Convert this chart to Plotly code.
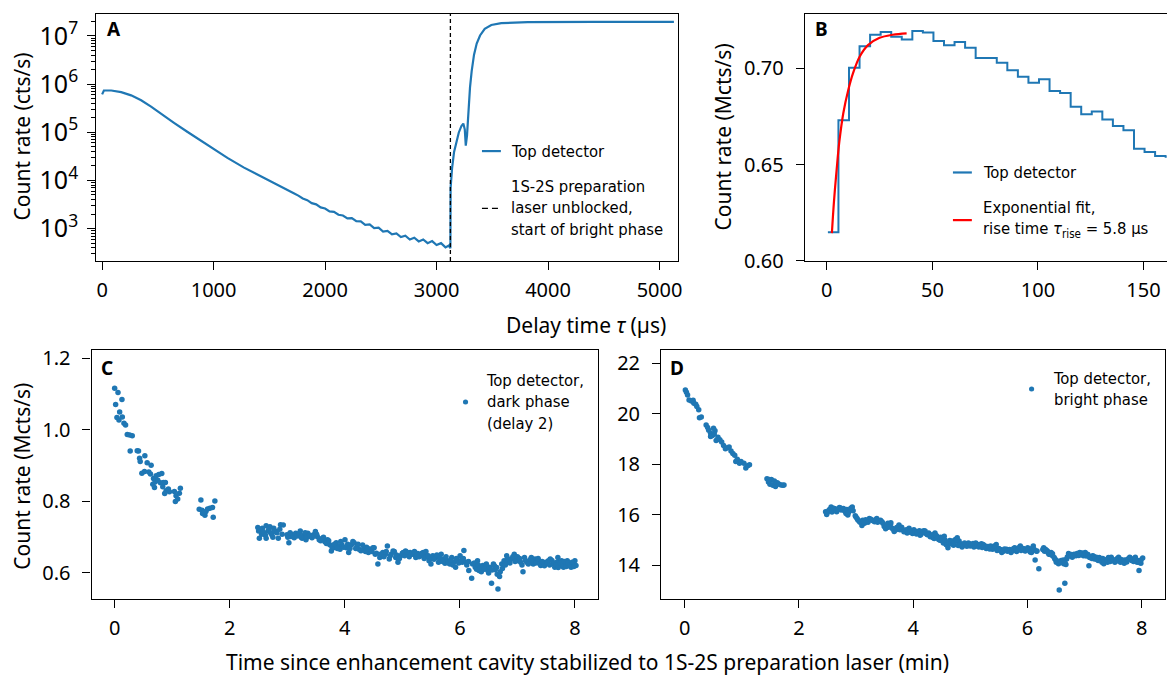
import plotly.graph_objects as go

W, H = 1175, 693          # target picture size
OFF = 8                   # page body margin in the browser
FW, FH = W - OFF, H - OFF  # figure size so that the figure fills the window
BLUE = "#1f77b4"
RED = "#ff0000"

# ---------------- Panel A data: delay time (us) vs count rate (cts/s)
A_TAU = [0, 16, 82, 171, 260, 350, 439, 528, 648, 767, 886, 1005, 1124, 1273, 1421, 1570, 1719,
         1760, 1800, 1840, 1880, 1920, 1960, 2000, 2040, 2080, 2120, 2160, 2200, 2240, 2280, 2320,
         2360, 2400, 2440, 2480, 2520, 2560, 2600, 2640, 2680, 2720, 2760, 2800, 2840, 2880, 2920,
         2960, 3000, 3040, 3080, 3110, 3124,
         3126, 3139, 3157, 3178, 3199, 3223, 3240, 3253, 3262, 3273, 3285, 3300, 3315, 3336, 3360,
         3390, 3432, 3491, 3580, 3818, 4414, 5129]
A_RATE = [6.11e5, 7.35e5, 7.35e5, 6.79e5, 5.82e5, 4.61e5, 3.39e5, 2.40e5, 1.55e5, 1.01e5, 6.61e4,
          4.37e4, 2.93e4, 1.84e4, 1.21e4, 8.22e3, 5.42e3,
          4.84e3, 4.22e3, 3.89e3, 3.37e3, 3.18e3, 2.75e3, 2.61e3, 2.28e3, 2.23e3, 1.94e3, 1.87e3,
          1.63e3, 1.65e3, 1.42e3, 1.41e3, 1.20e3, 1.22e3, 1.02e3, 1.04e3, 867, 899, 759, 791, 665,
          711, 594, 646, 542, 596, 498, 550, 455, 499, 407, 447, 389,
          7.0e3, 1.78e4, 3.89e4, 6.17e4, 9.77e4, 1.35e5, 1.51e5, 1.15e5, 5.25e4, 8.51e4, 2.51e5,
          8.51e5, 1.86e6, 4.07e6, 6.92e6, 1.02e7, 1.40e7, 1.68e7, 1.84e7, 1.93e7, 1.95e7, 1.95e7]
BRIGHT_START = 3124  # us, preparation laser unblocked

# ---------------- Panel B data: histogram bins (us) and rates (Mcts/s), fit
B_EDGES = [0.5, 5.5, 10.5, 15.5, 20.5, 25.5, 30.5, 35.5, 40.5, 45.5, 50.5, 55.5, 60.5, 65.5, 70.5,
           75.5, 80.5, 85.5, 90.5, 95.5, 100.5, 105.5, 110.5, 115.5, 120.5, 125.5, 130.5, 135.5,
           140.5, 145.5, 150.5, 155.5, 160.5, 165.5]
B_RATE = [0.6148, 0.6730, 0.7003, 0.7115, 0.7175, 0.7189, 0.7165, 0.7150, 0.7194, 0.7187, 0.7142,
          0.7120, 0.7138, 0.7108, 0.7054, 0.7054, 0.7029, 0.6990, 0.6956, 0.6926, 0.6943, 0.6882,
          0.6872, 0.6801, 0.6762, 0.6776, 0.6734, 0.6700, 0.6678, 0.6582, 0.6565, 0.6545, 0.6540]
FIT_T = [2.4, 3.4, 4.7, 5.9, 7.8, 10.1, 12.5, 15.6, 19.5, 25.0, 31.2, 37.8]
FIT_RATE = [0.6143, 0.6310, 0.6480, 0.6616, 0.6767, 0.6885, 0.6978, 0.7062, 0.7121, 0.7159,
            0.7175, 0.7182]

# ---------------- Panel C data: time (min) vs dark-phase rate (Mcts/s)
C_T = [0.000, 0.058, 0.017, 0.127, 0.087, 0.040, 0.075, 0.133, 0.162, 0.190, 0.219, 0.260, 0.306,
       0.270, 0.392, 0.415, 0.433, 0.444, 0.525, 0.565, 0.634, 0.473, 0.519, 0.594, 0.623, 0.675,
       0.721, 0.767, 0.819, 0.663, 0.703, 0.750, 0.796, 0.848, 0.882, 0.692, 0.836, 0.894, 0.934,
       0.952, 0.870, 1.038, 1.067, 1.125, 1.142, 1.055, 1.096,
       1.499, 1.470, 1.517, 1.546, 1.569, 1.586, 1.615, 1.655, 1.701, 1.742, 1.713, 1.528, 1.557,
       2.488, 2.515, 2.567, 2.600, 2.633, 2.666, 2.699, 2.732, 2.765, 2.798, 2.844, 2.883, 2.930,
       2.633, 2.502, 2.554,
       2.995, 3.028, 3.061, 3.094, 3.147, 3.180, 3.226, 3.259, 3.292, 3.325, 3.357, 3.410, 3.456,
       3.489, 3.522, 3.555, 3.608, 3.654, 3.700, 3.739, 3.766, 3.805, 3.851, 3.884, 3.917, 3.950,
       4.003, 4.029, 4.068, 4.115, 4.161, 4.213, 4.246, 4.332, 4.378, 4.411, 4.444, 4.490, 4.529,
       4.575, 4.608, 4.661, 4.707, 4.740, 4.773, 4.806, 4.839, 4.885, 4.924, 4.970, 5.016, 5.056,
       5.102, 5.135, 5.188, 5.234, 5.267, 5.319, 5.365, 5.398, 5.431, 5.464, 5.497, 5.530, 5.583,
       5.629, 5.675, 5.714, 5.741, 5.780, 5.826, 5.859, 5.892, 5.925, 5.958, 6.004, 6.043, 6.070,
       6.109, 6.155, 6.221, 6.205, 6.267, 6.307, 6.333, 6.373, 6.399, 6.438, 6.485, 6.517, 6.550,
       6.583, 6.616, 6.649, 6.662, 6.702, 6.728, 6.768, 6.814, 6.847, 6.899, 6.945, 6.978, 7.011,
       7.057, 7.097, 7.123, 7.163, 7.209, 7.242, 7.275, 7.307, 7.340, 7.373, 7.406, 7.452, 7.492,
       7.538, 7.571, 7.623, 7.650, 7.689, 7.735, 7.768, 7.801, 7.834, 7.867, 7.900, 7.933, 7.966,
       7.999, 8.018, 7.768, 7.703]
C_RATE = [1.117, 1.105, 1.071, 1.085, 1.050, 1.035, 1.028, 1.036, 1.019, 1.014, 0.987, 0.986, 0.984,
          0.941, 0.942, 0.941, 0.921, 0.912, 0.928, 0.908, 0.901, 0.879, 0.884, 0.882, 0.877, 0.864,
          0.872, 0.875, 0.878, 0.848, 0.854, 0.859, 0.852, 0.853, 0.853, 0.839, 0.841, 0.830, 0.835,
          0.827, 0.822, 0.828, 0.816, 0.823, 0.837, 0.800, 0.807,
          0.804, 0.778, 0.775, 0.769, 0.761, 0.772, 0.779, 0.781, 0.783, 0.801, 0.756, 0.766, 0.770,
          0.727, 0.697, 0.725, 0.711, 0.732, 0.717, 0.729, 0.707, 0.725, 0.716, 0.697, 0.735, 0.734,
          0.697, 0.717, 0.708,
          0.707, 0.684, 0.702, 0.707, 0.711, 0.705, 0.717, 0.697, 0.705, 0.693, 0.711, 0.702, 0.707,
          0.716, 0.702, 0.693, 0.697, 0.687, 0.693, 0.679, 0.661, 0.670, 0.684, 0.675, 0.666, 0.679,
          0.693, 0.670, 0.657, 0.679, 0.684, 0.675, 0.666, 0.670, 0.672, 0.657, 0.666, 0.670, 0.652,
          0.625, 0.643, 0.657, 0.652, 0.675, 0.639, 0.652, 0.661, 0.643, 0.630, 0.648, 0.657, 0.661,
          0.652, 0.657, 0.652, 0.643, 0.654, 0.648, 0.657, 0.652, 0.645, 0.634, 0.625, 0.648, 0.643,
          0.630, 0.652, 0.639, 0.627, 0.634, 0.625, 0.643, 0.630, 0.616, 0.634, 0.648, 0.630, 0.663,
          0.630, 0.607, 0.625, 0.585, 0.616, 0.634, 0.607, 0.603, 0.621, 0.616, 0.607, 0.616, 0.571,
          0.625, 0.609, 0.596, 0.555, 0.603, 0.625, 0.634, 0.648, 0.630, 0.639, 0.652, 0.643, 0.634,
          0.630, 0.603, 0.643, 0.630, 0.634, 0.643, 0.625, 0.639, 0.630, 0.634, 0.621, 0.625, 0.630,
          0.634, 0.639, 0.625, 0.616, 0.630, 0.621, 0.630, 0.616, 0.625, 0.634, 0.621, 0.616, 0.625,
          0.634, 0.621, 0.634, 0.643]
# further dark-phase points read from the dense part of the cloud
C_T2 = [2.52, 2.58, 2.62, 2.68, 2.71, 2.75, 2.78, 2.82, 2.87, 2.91, 3.01, 3.05, 3.12, 3.17, 3.21,
        3.24, 3.31, 3.34, 3.39, 3.43, 3.47, 3.51, 3.58, 3.63, 3.68, 3.72, 3.78, 3.82, 3.87, 3.93,
        3.98, 4.05, 4.09, 4.14, 4.19, 4.23, 4.28, 4.31, 4.36, 4.40, 4.47, 4.51, 4.55, 4.62, 4.68,
        4.72, 4.79, 4.86, 4.90, 4.95, 5.00, 5.04, 5.08, 5.12, 5.16, 5.21, 5.25, 5.29, 5.34, 5.38,
        5.41, 5.45, 5.51, 5.55, 5.60, 5.65, 5.70, 5.76, 5.80, 5.84, 5.88, 5.94, 5.98, 6.02, 6.06,
        6.12, 6.15, 6.25, 6.29, 6.32, 6.36, 6.42, 6.46, 6.50, 6.56, 6.60, 6.64, 6.69, 6.74, 6.79,
        6.83, 6.87, 6.92, 6.96, 7.00, 7.04, 7.08, 7.14, 7.19, 7.23, 7.26, 7.32, 7.36, 7.39, 7.43,
        7.47, 7.52, 7.56, 7.60, 7.64, 7.67, 7.71, 7.75, 7.79, 7.82, 7.85, 7.88, 7.91, 7.95, 7.98]
C_RATE2 = [0.722, 0.715, 0.705, 0.722, 0.712, 0.700, 0.718, 0.712, 0.722, 0.708, 0.700, 0.712,
           0.698, 0.703, 0.710, 0.700, 0.712, 0.700, 0.705, 0.698, 0.703, 0.708, 0.690, 0.700,
           0.682, 0.690, 0.672, 0.680, 0.668, 0.688, 0.672, 0.680, 0.668, 0.688, 0.668, 0.680,
           0.662, 0.678, 0.660, 0.668, 0.660, 0.670, 0.655, 0.652, 0.645, 0.660, 0.648, 0.660,
           0.650, 0.640, 0.655, 0.648, 0.658, 0.645, 0.652, 0.660, 0.650, 0.645, 0.655, 0.640,
           0.660, 0.648, 0.640, 0.638, 0.650, 0.640, 0.632, 0.645, 0.628, 0.636, 0.622, 0.640,
           0.628, 0.635, 0.640, 0.622, 0.632, 0.628, 0.610, 0.622, 0.615, 0.610, 0.625, 0.600,
           0.608, 0.620, 0.615, 0.590, 0.612, 0.622, 0.640, 0.628, 0.645, 0.632, 0.645, 0.640,
           0.622, 0.635, 0.625, 0.638, 0.632, 0.628, 0.640, 0.625, 0.632, 0.620, 0.628, 0.622,
           0.635, 0.628, 0.622, 0.615, 0.628, 0.622, 0.632, 0.618, 0.628, 0.622, 0.630, 0.618]

# ---------------- Panel D data: time (min) vs bright-phase rate (Mcts/s)
D_T = [0.013, 0.032, 0.052, 0.078, 0.117, 0.149, 0.162, 0.195, 0.214, 0.247, 0.260, 0.292, 0.377,
       0.403, 0.422, 0.455, 0.487, 0.506, 0.532, 0.552, 0.584, 0.617, 0.649, 0.682, 0.714, 0.747,
       0.779, 0.812, 0.844, 0.877, 0.896, 0.922, 0.961, 0.987, 1.039, 1.071, 1.104, 1.136, 0.455,
       0.519,
       1.442, 1.468, 1.494, 1.519, 1.545, 1.571, 1.591, 1.623, 1.656, 1.688, 1.721, 1.740, 1.481,
       2.468, 2.487, 2.519, 2.545, 2.565, 2.597, 2.630, 2.662, 2.695, 2.727, 2.760, 2.792, 2.825,
       2.857, 2.890, 2.922, 2.935, 2.987, 3.019, 3.052, 3.104, 3.117, 3.149, 3.195, 3.234, 3.279,
       3.325, 3.364, 3.409, 3.455, 3.494, 3.519, 3.558, 3.604, 3.636, 3.669, 3.714, 3.753, 3.786,
       3.818, 3.864, 3.896, 3.929, 3.974, 4.013, 4.058, 4.091, 4.123, 4.156, 4.188, 4.234, 4.273,
       4.318, 4.351, 4.383, 4.416, 4.448, 4.481, 4.513, 4.545, 4.578, 4.610, 4.643, 4.675, 4.708,
       4.740, 4.773, 4.805, 4.857, 4.883, 4.922, 4.968, 5.000, 5.032, 5.065, 5.097, 5.130, 5.162,
       5.195, 5.227, 5.260, 5.292, 5.325, 5.357, 5.390, 5.422, 5.455, 5.487, 5.519, 5.552, 5.584,
       5.636, 5.682, 5.714, 5.747, 5.779, 5.812, 5.844, 5.877, 5.909, 5.961, 6.006, 6.039, 6.071,
       6.104, 6.136, 6.169, 6.201, 6.286, 6.312, 6.351, 6.377, 6.416, 6.442, 6.481, 6.506, 6.545,
       6.558, 6.591, 6.636, 6.656, 6.675, 6.688, 6.721, 6.753, 6.786, 6.818, 6.851, 6.883, 6.916,
       6.948, 6.981, 7.013, 7.045, 7.078, 7.110, 7.143, 7.175, 7.208, 7.240, 7.273, 7.305, 7.338,
       7.370, 7.403, 7.435, 7.468, 7.500, 7.532, 7.565, 7.597, 7.630, 7.662, 7.695, 7.727, 7.760,
       7.792, 7.825, 7.857, 7.890, 7.922, 7.955, 7.987, 8.019]
D_RATE = [20.93, 20.84, 20.73, 20.54, 20.50, 20.53, 20.41, 20.37, 20.28, 20.15, 19.83, 19.86, 19.55,
          19.45, 19.34, 19.22, 19.13, 19.42, 19.32, 18.93, 19.06, 18.96, 18.87, 18.74, 18.61, 18.65,
          18.68, 18.52, 18.42, 18.35, 18.10, 18.19, 18.03, 18.10, 18.03, 17.84, 17.93, 17.97, 19.09,
          19.19,
          17.42, 17.29, 17.20, 17.39, 17.16, 17.33, 17.11, 17.26, 17.20, 17.17, 17.16, 17.17, 17.39,
          16.11, 16.00, 16.13, 16.21, 16.30, 16.17, 16.23, 16.11, 16.23, 16.26, 16.21, 16.17, 16.04,
          15.98, 16.17, 16.23, 16.30, 15.95, 15.85, 15.75, 15.57, 15.78, 15.66, 15.75, 15.85, 15.78,
          15.72, 15.85, 15.75, 15.72, 15.53, 15.44, 15.66, 15.62, 15.46, 15.33, 15.49, 15.59, 15.46,
          15.40, 15.36, 15.27, 15.46, 15.30, 15.40, 15.23, 15.33, 15.18, 15.33, 15.36, 15.23, 15.27,
          15.18, 15.08, 15.27, 15.14, 15.01, 15.10, 14.95, 15.14, 14.82, 14.69, 14.97, 14.92, 14.79,
          15.01, 15.08, 14.95, 14.72, 14.82, 14.82, 14.88, 14.76, 14.82, 14.72, 14.88, 14.82, 14.76,
          14.85, 14.82, 14.76, 14.72, 14.69, 14.76, 14.63, 14.76, 14.82, 14.63, 14.59, 14.50, 14.56,
          14.63, 14.59, 14.50, 14.59, 14.69, 14.54, 14.67, 14.76, 14.63, 14.56, 14.69, 14.59, 14.50,
          14.76, 14.20, 14.56, 13.86, 14.69, 14.63, 14.56, 14.43, 14.50, 14.37, 14.24, 14.11, 14.05,
          13.02, 14.18, 14.05, 13.28, 14.02, 14.24, 14.46, 14.37, 14.31, 14.43, 14.37, 14.43, 14.50,
          14.46, 14.37, 14.50, 14.43, 13.98, 14.31, 14.37, 14.24, 14.31, 14.18, 14.24, 14.11, 14.05,
          14.18, 14.11, 14.24, 14.31, 14.18, 14.11, 14.24, 14.31, 14.11, 14.18, 14.07, 14.18, 14.24,
          14.31, 14.18, 14.24, 14.31, 14.11, 13.79, 14.07, 14.28]
# further bright-phase points read from the dense part of the cloud
D_T2 = [2.49, 2.53, 2.58, 2.61, 2.65, 2.68, 2.71, 2.74, 2.78, 2.81, 2.84, 2.87, 2.91, 2.95, 3.00,
        3.03, 3.07, 3.13, 3.17, 3.21, 3.26, 3.30, 3.34, 3.38, 3.43, 3.47, 3.53, 3.57, 3.61, 3.65,
        3.70, 3.74, 3.77, 3.80, 3.84, 3.88, 3.92, 3.95, 3.99, 4.03, 4.07, 4.11, 4.14, 4.18, 4.21,
        4.25, 4.30, 4.34, 4.37, 4.40, 4.43, 4.47, 4.50, 4.53, 4.56, 4.59, 4.63, 4.66, 4.69, 4.72,
        4.76, 4.79, 4.83, 4.87, 4.90, 4.94, 4.98, 5.02, 5.05, 5.09, 5.12, 5.15, 5.18, 5.21, 5.24,
        5.28, 5.31, 5.34, 5.37, 5.41, 5.44, 5.47, 5.50, 5.53, 5.57, 5.60, 5.65, 5.69, 5.73, 5.76,
        5.80, 5.83, 5.86, 5.89, 5.93, 5.97, 6.01, 6.05, 6.09, 6.12, 6.16, 6.27, 6.30, 6.33, 6.36,
        6.40, 6.44, 6.47, 6.50, 6.53, 6.57, 6.60, 6.63, 6.66, 6.70, 6.73, 6.77, 6.80, 6.84, 6.87,
        6.90, 6.93, 6.96, 7.00, 7.03, 7.06, 7.09, 7.13, 7.16, 7.19, 7.22, 7.26, 7.29, 7.32, 7.35,
        7.39, 7.42, 7.45, 7.48, 7.51, 7.55, 7.58, 7.61, 7.64, 7.67, 7.70, 7.74, 7.77, 7.80, 7.83,
        7.86, 7.89, 7.93, 7.96, 7.99]
D_RATE2 = [16.05, 16.18, 16.10, 16.25, 16.15, 16.20, 16.28, 16.18, 16.24, 16.12, 16.20, 16.08,
           16.25, 16.15, 15.90, 15.80, 15.70, 15.72, 15.80, 15.70, 15.82, 15.76, 15.80, 15.70,
           15.78, 15.66, 15.58, 15.50, 15.68, 15.42, 15.40, 15.52, 15.40, 15.50, 15.32, 15.40,
           15.30, 15.38, 15.25, 15.35, 15.28, 15.36, 15.22, 15.30, 15.35, 15.20, 15.12, 15.20,
           15.05, 15.18, 15.08, 14.98, 15.05, 14.88, 14.98, 14.80, 14.90, 14.85, 14.95, 14.88,
           14.98, 14.78, 14.85, 14.78, 14.88, 14.75, 14.85, 14.80, 14.86, 14.75, 14.80, 14.72,
           14.80, 14.70, 14.78, 14.66, 14.74, 14.64, 14.70, 14.66, 14.72, 14.58, 14.66, 14.62,
           14.55, 14.64, 14.55, 14.62, 14.56, 14.66, 14.60, 14.62, 14.70, 14.58, 14.66, 14.58,
           14.62, 14.52, 14.68, 14.62, 14.55, 14.62, 14.55, 14.60, 14.50, 14.42, 14.45, 14.30,
           14.20, 14.15, 14.10, 14.12, 14.20, 14.08, 14.32, 14.40, 14.42, 14.36, 14.40, 14.46,
           14.38, 14.42, 14.48, 14.40, 14.36, 14.42, 14.30, 14.26, 14.35, 14.28, 14.22, 14.30,
           14.20, 14.26, 14.15, 14.22, 14.30, 14.14, 14.24, 14.20, 14.15, 14.26, 14.18, 14.22,
           14.14, 14.20, 14.12, 14.22, 14.28, 14.20, 14.14, 14.25, 14.18, 14.10, 14.20]

# ---------------- Text
A_LEGEND = ["Top detector", "1S-2S preparation<br>laser unblocked,<br>start of bright phase"]
B_LEGEND = ["Top detector", "Exponential fit,<br>rise time <i>τ</i><sub>rise</sub> = 5.8 µs"]
C_LEGEND = "Top detector,<br>dark phase<br>(delay 2)"
D_LEGEND = "Top detector,<br>bright phase"

TICK_FONT = dict(family="Noto Sans", size=20, color="black")
TITLE_FONT = dict(family="Noto Sans", size=21, color="black")
LEG_FONT = dict(family="DejaVu Sans Condensed, Liberation Sans Narrow, sans-serif", size=16.5,
                color="black")


def px(x):
    """picture pixel column -> paper fraction"""
    return min(1.0, max(0.0, (x - OFF) / FW))


def py(y):
    """picture pixel row -> paper fraction"""
    return min(1.0, max(0.0, 1 - (y - OFF) / FH))


fig = go.Figure()

# Panel A
fig.add_trace(go.Scatter(x=A_TAU, y=A_RATE, mode="lines", line=dict(color=BLUE, width=2.2),
                         xaxis="x", yaxis="y", showlegend=False, name="Top detector"))
# Panel B
fig.add_trace(go.Scatter(x=B_EDGES, y=B_RATE + [B_RATE[-1]], mode="lines", line_shape="hv",
                         line=dict(color=BLUE, width=2), xaxis="x2", yaxis="y2",
                         showlegend=False, name="Top detector"))
fig.add_trace(go.Scatter(x=FIT_T, y=FIT_RATE, mode="lines", line_shape="spline",
                         line=dict(color=RED, width=2.2), xaxis="x2", yaxis="y2",
                         showlegend=False, name="Exponential fit"))
# Panel C
fig.add_trace(go.Scatter(x=C_T + C_T2, y=C_RATE + C_RATE2, mode="markers",
                         marker=dict(color=BLUE, size=5.5), xaxis="x3", yaxis="y3",
                         showlegend=False, name="dark phase"))
# Panel D
fig.add_trace(go.Scatter(x=D_T + D_T2, y=D_RATE + D_RATE2, mode="markers",
                         marker=dict(color=BLUE, size=5.5), xaxis="x4", yaxis="y4",
                         showlegend=False, name="bright phase"))

axis_common = dict(showline=True, linecolor="black", linewidth=1.3, mirror=True, ticks="outside",
                   ticklen=8, tickwidth=1.3, tickcolor="black", showgrid=False, zeroline=False,
                   tickfont=TICK_FONT)
xa = dict(axis_common, ticklabelstandoff=3)
ya = dict(axis_common, ticklabelstandoff=8)

fig.update_layout(
    width=FW, height=FH, margin=dict(l=0, r=0, t=0, b=0),
    paper_bgcolor="white", plot_bgcolor="white",
    xaxis=dict(domain=[px(96.7), px(680.7)], range=[-52, 5164],
               tickvals=[0, 1000, 2000, 3000, 4000, 5000], anchor="y", **xa),
    yaxis=dict(domain=[py(262), py(8)], type="log", range=[2.328, 7.454], dtick=1,
               exponentformat="power", anchor="x",
               minor=dict(ticks="outside", ticklen=4, tickcolor="black", tickwidth=1, showgrid=False),
               **dict(ya, ticklabelstandoff=5)),
    xaxis2=dict(domain=[px(808.3), px(1171.7)], range=[-10.4, 161], tickvals=[0, 50, 100, 150],
                anchor="y2", **xa),
    yaxis2=dict(domain=[py(261.7), py(8)], range=[0.6, 0.7283], tickvals=[0.60, 0.65, 0.70],
                tickformat=".2f", anchor="x2", **ya),
    xaxis3=dict(domain=[px(92), px(600.5)], range=[-0.4, 8.4], tickvals=[0, 2, 4, 6, 8],
                anchor="y3", **xa),
    yaxis3=dict(domain=[py(609.3), py(354)], range=[0.528, 1.2226], tickvals=[0.6, 0.8, 1.0, 1.2],
                tickformat=".1f", anchor="x3", **ya),
    xaxis4=dict(domain=[px(664), px(1170)], range=[-0.41, 8.41], tickvals=[0, 2, 4, 6, 8],
                anchor="y4", **xa),
    yaxis4=dict(domain=[py(610), py(354)], range=[12.647, 22.5], tickvals=[14, 16, 18, 20, 22],
                anchor="x4", **ya),
)

shapes = []
# dashed line at start of bright phase
shapes.append(dict(type="line", xref="x", yref="y domain", x0=BRIGHT_START, x1=BRIGHT_START,
                   y0=0, y1=1, line=dict(color="black", width=1.3, dash="4px,3px")))
# legend handles
shapes.append(dict(type="line", xref="paper", yref="paper", x0=px(484), x1=px(503),
                   y0=py(149), y1=py(149), line=dict(color=BLUE, width=2.2)))
shapes.append(dict(type="line", xref="paper", yref="paper", x0=px(484), x1=px(503),
                   y0=py(208), y1=py(208), line=dict(color="black", width=1.3, dash="6px,4px")))
shapes.append(dict(type="line", xref="paper", yref="paper", x0=px(957), x1=px(976),
                   y0=py(171), y1=py(171), line=dict(color=BLUE, width=2.2)))
shapes.append(dict(type="line", xref="paper", yref="paper", x0=px(957), x1=px(976),
                   y0=py(220), y1=py(220), line=dict(color=RED, width=2.2)))
for cx, cy in [(467.5, 407), (1036, 393.7)]:
    shapes.append(dict(type="circle", xref="paper", yref="paper", x0=px(cx - 2.6), x1=px(cx + 2.6),
                       y0=py(cy + 2.6), y1=py(cy - 2.6), fillcolor=BLUE, line=dict(width=0)))
fig.update_layout(shapes=shapes)

ann = []


def text(x, y, s, font, xanchor="left", yanchor="middle", angle=0, align="left"):
    ann.append(dict(x=px(x), y=py(y), xref="paper", yref="paper", text=s, showarrow=False,
                    xanchor=xanchor, yanchor=yanchor, textangle=angle, font=font, align=align))


LETTER_FONT = dict(family="Noto Sans", size=19, color="black")
text(105, 23, "<b>A</b>", LETTER_FONT)
text(816, 23, "<b>B</b>", LETTER_FONT)
text(99, 372, "<b>C</b>", LETTER_FONT)
text(671, 372, "<b>D</b>", LETTER_FONT)

text(511, 149, A_LEGEND[0], LEG_FONT)
text(511, 208, A_LEGEND[1], LEG_FONT)
text(985, 171, B_LEGEND[0], LEG_FONT)
text(985, 219, B_LEGEND[1], LEG_FONT)
text(486, 407, C_LEGEND, LEG_FONT)
text(1055, 393.5, D_LEGEND, LEG_FONT)

text(22, 134, "Count rate (cts/s)", TITLE_FONT, xanchor="center", angle=-90)
text(726, 134, "Count rate (Mcts/s)", TITLE_FONT, xanchor="center", angle=-90)
text(22, 483, "Count rate (Mcts/s)", TITLE_FONT, xanchor="center", angle=-90)
text(588, 328, "Delay time <i>τ</i> (µs)", TITLE_FONT, xanchor="center")
text(590, 675, "Time since enhancement cavity stabilized to 1S-2S preparation laser (min)",
     TITLE_FONT, xanchor="center")
fig.update_layout(annotations=ann)

fig.write_html("out.html")
